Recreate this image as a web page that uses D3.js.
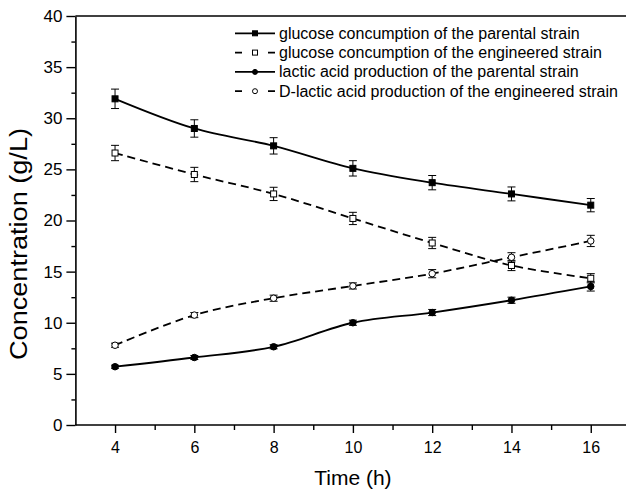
<!DOCTYPE html>
<html>
<head>
<meta charset="utf-8">
<script src="https://cdn.jsdelivr.net/npm/d3@7"></script>
<style>
  body { margin: 0; background: #fff; }
  svg { display: block; font-family: "Liberation Sans", Arial, sans-serif; }
</style>
</head>
<body>
<div id="chart"></div>
<script>
// sampling times (h)
const times = [4, 6, 8, 10, 12, 14, 16];

const glucoseParental = [31.9, 29.0, 27.3, 25.1, 23.7, 22.6, 21.5];
const glucoseParentalErr = [0.95, 0.85, 0.8, 0.75, 0.7, 0.68, 0.65];

const glucoseEngineered = [26.6, 24.5, 22.6, 20.2, 17.8, 15.6, 14.35];
const glucoseEngineeredErr = [0.75, 0.7, 0.65, 0.6, 0.55, 0.5, 0.45];

const lacticParental = [5.7, 6.6, 7.65, 10.0, 11.0, 12.2, 13.55];
const lacticParentalErr = [0.15, 0.2, 0.2, 0.25, 0.3, 0.3, 0.45];

const dLacticEngineered = [7.8, 10.75, 12.4, 13.6, 14.8, 16.4, 18.0];
const dLacticEngineeredErr = [0.2, 0.25, 0.3, 0.3, 0.4, 0.45, 0.55];

const legendLabels = [
    "glucose concumption of the parental strain",
    "glucose concumption of the engineered strain",
    "lactic acid production of the parental strain",
    "D-lactic acid production of the engineered strain"
];

const xTicks = [4, 6, 8, 10, 12, 14, 16];
const yTicks = [0, 5, 10, 15, 20, 25, 30, 35, 40];

const series = [
    {values: glucoseParental, err: glucoseParentalErr, dashed: false, shape: "square", filled: true},
    {values: glucoseEngineered, err: glucoseEngineeredErr, dashed: true, shape: "square", filled: false},
    {values: lacticParental, err: lacticParentalErr, dashed: false, shape: "circle", filled: true},
    {values: dLacticEngineered, err: dLacticEngineeredErr, dashed: true, shape: "circle", filled: false}
];

const width = 626, height = 490;

const svg = d3.select("#chart").append("svg")
    .attr("width", width)
    .attr("height", height);

const x = d3.scaleLinear().domain([3, 17]).range([75.4, 630.4]);
const y = d3.scaleLinear().domain([0, 40]).range([425, 16]);

// frame: top line
svg.append("line")
    .attr("x1", x(3)).attr("x2", width)
    .attr("y1", y(40)).attr("y2", y(40))
    .attr("stroke", "#000").attr("stroke-width", 1.6);

// left axis with minor ticks
const yAxis = svg.append("g")
    .attr("transform", `translate(${x(3)},0)`)
    .call(d3.axisLeft(y).tickValues(yTicks).tickSize(9).tickPadding(4).tickSizeOuter(0));
yAxis.selectAll(".tick").filter(d => false).remove();
svg.append("g")
    .attr("transform", `translate(${x(3)},0)`)
    .call(d3.axisLeft(y).tickValues(d3.range(2.5, 40, 5)).tickSize(4).tickFormat("").tickSizeOuter(0))
    .select(".domain").remove();

// bottom axis with minor ticks
const xAxis = svg.append("g")
    .attr("transform", `translate(0,${y(0)})`)
    .call(d3.axisBottom(x).tickValues(xTicks).tickSize(8).tickPadding(9).tickSizeOuter(0));
xAxis.select(".domain").attr("d", `M${x(3)},0H${width}`);
svg.append("g")
    .attr("transform", `translate(0,${y(0)})`)
    .call(d3.axisBottom(x).tickValues([5, 7, 9, 11, 13, 15]).tickSize(5).tickFormat("").tickSizeOuter(0))
    .select(".domain").remove();

svg.selectAll(".domain").attr("stroke-width", 1.6);
svg.selectAll(".tick line").attr("stroke-width", 1.4);
yAxis.selectAll("text").attr("font-size", 17).attr("font-family", "Liberation Sans, Arial, sans-serif");
xAxis.selectAll("text").attr("font-size", 16).attr("font-family", "Liberation Sans, Arial, sans-serif");

// axis titles
svg.append("text")
    .attr("x", x(10))
    .attr("y", 485)
    .attr("text-anchor", "middle")
    .attr("font-size", 21)
    .text("Time (h)");

svg.append("text")
    .attr("transform", "translate(27,244) rotate(-90)")
    .attr("text-anchor", "middle")
    .attr("font-size", 23)
    .attr("textLength", 232)
    .attr("lengthAdjust", "spacingAndGlyphs")
    .text("Concentration (g/L)");

const line = d3.line()
    .x((d, i) => x(times[i]))
    .y(d => y(d))
    .curve(d3.curveCatmullRom.alpha(0.5));

function drawMarker(g, shape, filled, cx, cy, size) {
    if (shape === "square") {
        g.append("rect")
            .attr("x", cx - size / 2).attr("y", cy - size / 2)
            .attr("width", size).attr("height", size)
            .attr("fill", filled ? "#000" : "#fff")
            .attr("stroke", "#000").attr("stroke-width", 1);
    } else {
        g.append("circle")
            .attr("cx", cx).attr("cy", cy).attr("r", size / 2)
            .attr("fill", filled ? "#000" : "#fff")
            .attr("stroke", "#000").attr("stroke-width", 1);
    }
}

series.forEach(s => {
    svg.append("path")
        .datum(s.values)
        .attr("d", line)
        .attr("fill", "none")
        .attr("stroke", "#000")
        .attr("stroke-width", 1.8)
        .attr("stroke-dasharray", s.dashed ? "8,5" : null);
});

series.forEach(s => {
    const g = svg.append("g");
    s.values.forEach((v, i) => {
        const cx = x(times[i]);
        const top = y(v + s.err[i]), bot = y(v - s.err[i]);
        g.append("path")
            .attr("d", `M${cx},${top}V${bot}M${cx - 4},${top}H${cx + 4}M${cx - 4},${bot}H${cx + 4}`)
            .attr("stroke", "#000").attr("stroke-width", 1).attr("fill", "none");
        drawMarker(g, s.shape, s.filled, cx, y(v), s.shape === "square" ? 6 : 6.5);
    });
});

// legend
const legend = svg.append("g");
const legendY = [33.3, 52.6, 71.9, 91.2];
series.forEach((s, i) => {
    const ly = legendY[i];
    legend.append("line")
        .attr("x1", 235).attr("x2", 275)
        .attr("y1", ly).attr("y2", ly)
        .attr("stroke", "#000").attr("stroke-width", 1.8)
        .attr("stroke-dasharray", s.dashed ? "7,26" : null);
    drawMarker(legend, s.shape, s.filled, 255, ly, 5);
    legend.append("text")
        .attr("x", 279)
        .attr("y", ly + 5.5)
        .attr("font-size", 16)
        .text(legendLabels[i]);
});
</script>
</body>
</html>
